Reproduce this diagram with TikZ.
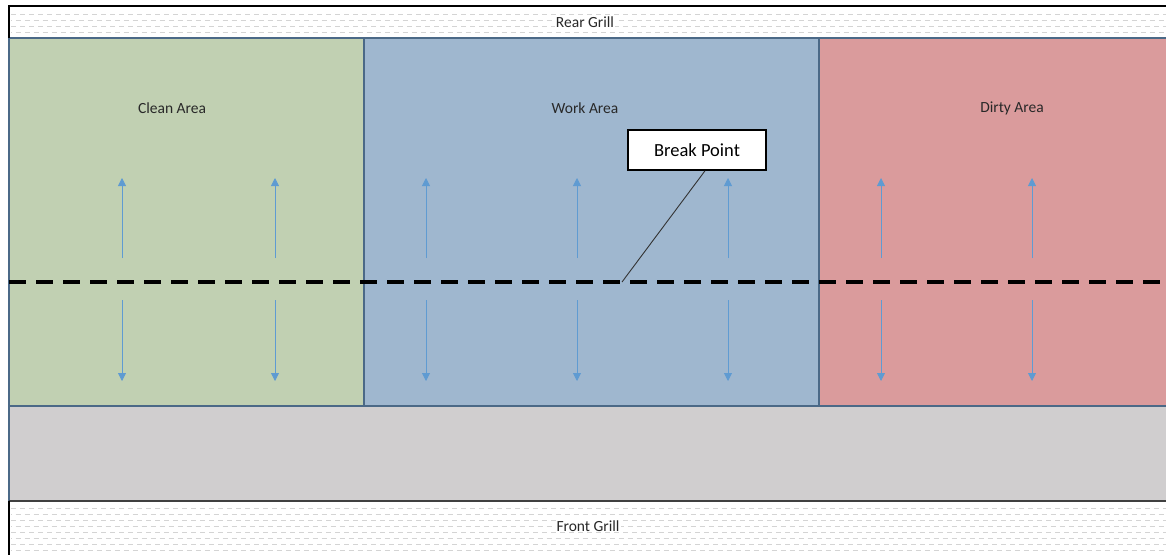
\documentclass[tikz,border=0pt]{standalone}
\usepackage{fontspec}
\setmainfont{Carlito}
\usetikzlibrary{arrows.meta}
\definecolor{cleanc}{RGB}{193,208,178}
\definecolor{workc}{RGB}{159,183,207}
\definecolor{dirtyc}{RGB}{218,155,156}
\definecolor{trayc}{RGB}{208,206,207}
\definecolor{edgec}{RGB}{75,105,135}
\definecolor{arrc}{RGB}{95,155,210}
\definecolor{dashc}{RGB}{212,212,212}
\definecolor{txtc}{RGB}{40,40,40}
\tikzset{
  area/.style={draw=edgec, line width=1.2pt, anchor=north west, inner sep=0pt, outer sep=0pt},
  grill/.style={fill=white, draw=black, line width=1.5pt},
  flow/.style={draw=arrc, line width=0.8pt, -{Triangle[length=8pt,width=8pt]}},
  lbl/.style={font=\fontsize{15.5}{18}\selectfont, text=txtc},
  breakbox/.style={draw=black, line width=1.6pt, fill=white, minimum width=138pt, minimum height=40pt, font=\fontsize{18.5}{21}\selectfont, inner sep=0pt},
  cut/.style={draw=black, line width=3.6pt, dash pattern=on 17pt off 10pt},
}
\begin{document}
\begin{tikzpicture}[x=1pt,y=-1pt]
\useasboundingbox (0,0) rectangle (1166,554);
\fill[white] (0,0) rectangle (1166,554);
% rear grill
\path[grill] (9,6) rectangle (1175,38);
\foreach \yy/\ph in {14/0,20/4.5,26/0,32/4.5}{
  \draw[dashc, line width=1pt, dash pattern=on 5pt off 4pt, dash phase=\ph pt] (11,\yy) -- (1166,\yy);
}
\node[lbl, fill=white, inner sep=1pt] (rear) at (585,22) {Rear Grill};
% front grill
\path[grill] (9,501) rectangle (1175,560);
\foreach \yy/\ph in {508/0,514/4.5,520/0,526/4.5,532/0,538/4.5,544/0,550/4.5}{
  \draw[dashc, line width=1pt, dash pattern=on 5pt off 4pt, dash phase=\ph pt] (11,\yy) -- (1166,\yy);
}
\node[lbl, fill=white, inner sep=1pt] (front) at (588,526) {Front Grill};
% tray
\node[area, fill=trayc, minimum width=1170pt, minimum height=95pt] (tray) at (9,406) {};
\draw[black!75, line width=2pt] (9,501) -- (1166,501);
% areas
\node[area, fill=cleanc, minimum width=355pt, minimum height=368pt] (clean) at (9,38) {};
\node[area, fill=workc, minimum width=455pt, minimum height=368pt] (work) at (364,38) {};
\node[area, fill=dirtyc, minimum width=360pt, minimum height=368pt] (dirty) at (819,38) {};
\draw[black, line width=1.5pt] (9,6) -- (9,38);
\draw[black, line width=1.5pt] (9,501) -- (9,554);
\node[lbl] (cleanl) at (172,108) {Clean Area};
\node[lbl] (workl) at (585,108) {Work Area};
\node[lbl] (dirtyl) at (1012,108) {Dirty Area};
% arrows
\foreach \xx [count=\i] in {122,275,426,577,728,881,1032}{
  \coordinate (ua\i) at (\xx,258);
  \coordinate (ub\i) at (\xx,178);
  \coordinate (da\i) at (\xx,300);
  \coordinate (db\i) at (\xx,381);
  \draw[flow] (ua\i) -- (ub\i);
  \draw[flow] (da\i) -- (db\i);
}
% dashed break line
\coordinate (cutL) at (9,282);
\coordinate (cutR) at (1160,282);
\draw[cut] (cutL) -- (cutR);
% break point callout
\node[breakbox] (bp) at (697,150) {Break Point};
\coordinate (bpt) at (622,282);
\draw[black!80, line width=0.9pt] (bp.south) ++(8,0) coordinate (bps) -- (bpt);
\end{tikzpicture}
\end{document}
